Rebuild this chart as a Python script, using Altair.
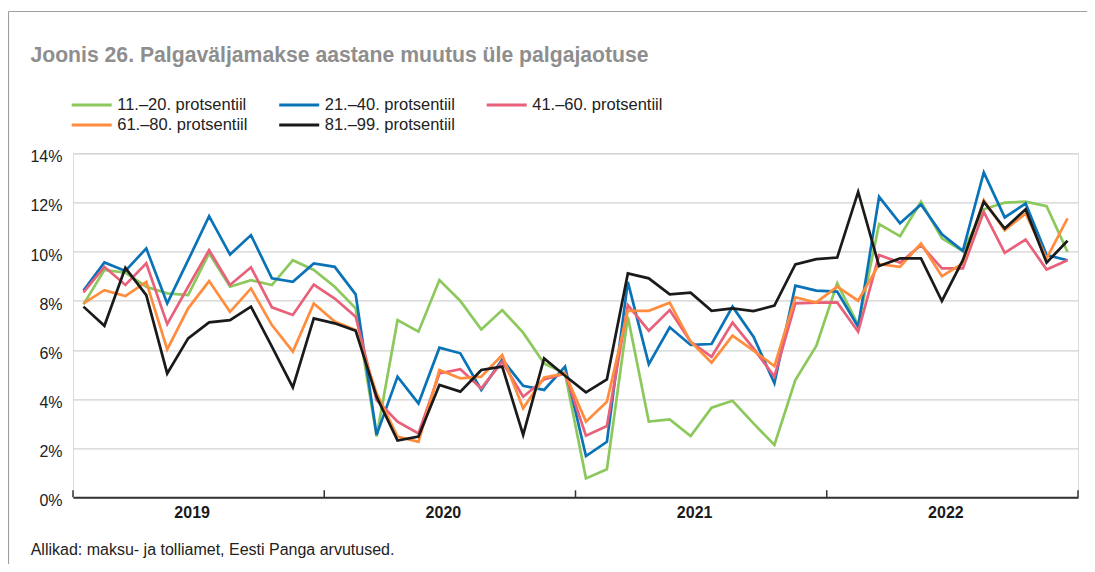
import json
import altair as alt
import pandas as pd

# ---------------- data ----------------
years = ["2019", "2020", "2021", "2022"]
months = [f"{y}-{m:02d}" for y in years for m in range(1, 13)]

series_names = [
    "11.–20. protsentiil",
    "21.–40. protsentiil",
    "41.–60. protsentiil",
    "61.–80. protsentiil",
    "81.–99. protsentiil",
]

p11_20 = [7.85, 9.25, 9.14, 8.57, 8.30, 8.23, 9.93, 8.57, 8.84, 8.64, 9.65, 9.25,
          8.57, 7.69, 2.47, 7.21, 6.74, 8.84, 7.99, 6.83, 7.62, 6.70, 5.45, 5.04,
          0.77, 1.14, 7.35, 3.08, 3.17, 2.49, 3.65, 3.93, 3.01, 2.13, 4.77, 6.16,
          8.71, 7.01, 11.12, 10.63, 12.03, 10.54, 10.02, 11.72, 11.99, 12.03, 11.85, 9.99]

p21_40 = [8.41, 9.56, 9.21, 10.13, 7.89, 9.65, 11.44, 9.88, 10.67, 8.91, 8.77, 9.52,
          9.38, 8.26, 2.54, 4.91, 3.82, 6.09, 5.86, 4.37, 5.61, 4.54, 4.37, 5.32,
          1.68, 2.26, 8.77, 5.42, 6.92, 6.20, 6.24, 7.76, 6.54, 4.64, 8.61, 8.41,
          8.37, 6.94, 12.23, 11.15, 11.92, 10.70, 10.03, 13.22, 11.39, 11.96, 9.86, 9.65]

p41_60 = [8.34, 9.38, 8.64, 9.52, 7.05, 8.57, 10.06, 8.64, 9.36, 7.73, 7.42, 8.66,
          8.09, 7.35, 3.96, 3.08, 2.60, 5.04, 5.21, 4.43, 5.52, 4.09, 4.80, 5.04,
          2.51, 2.90, 7.82, 6.78, 7.62, 6.33, 5.72, 7.11, 6.06, 4.91, 7.89, 7.92,
          7.93, 6.74, 9.86, 9.55, 10.26, 9.32, 9.32, 11.62, 9.95, 10.49, 9.27, 9.65]

p61_80 = [7.89, 8.43, 8.19, 8.77, 6.02, 7.69, 8.80, 7.55, 8.50, 7.01, 5.93, 7.89,
          7.15, 6.81, 4.23, 2.47, 2.26, 5.18, 4.84, 4.91, 5.79, 3.62, 4.88, 5.04,
          3.08, 3.89, 7.59, 7.59, 7.92, 6.33, 5.48, 6.58, 5.97, 5.34, 8.14, 7.93,
          8.57, 8.00, 9.49, 9.38, 10.33, 9.00, 9.52, 12.09, 10.87, 11.55, 9.72, 11.35]

p81_99 = [7.76, 6.98, 9.34, 8.23, 5.04, 6.47, 7.12, 7.21, 7.76, 6.13, 4.47, 7.28,
          7.08, 6.78, 4.09, 2.31, 2.47, 4.57, 4.30, 5.18, 5.32, 2.54, 5.65, 4.95,
          4.27, 4.80, 9.11, 8.91, 8.26, 8.33, 7.59, 7.69, 7.58, 7.80, 9.48, 9.69,
          9.76, 12.43, 9.41, 9.72, 9.72, 7.99, 9.65, 12.03, 10.94, 11.72, 9.55, 10.44]

y_ticks = [0, 2, 4, 6, 8, 10, 12, 14]
year_bounds = [0, 12, 24, 36, 48]
year_centers = [6, 18, 30, 42]

title_text = "Joonis 26. Palgaväljamakse aastane muutus üle palgajaotuse"
source_text = "Allikad: maksu- ja tolliamet, Eesti Panga arvutused."

colors = ["#8cc85c", "#0a73b8", "#e8607a", "#ff8d3d", "#1a1a1a"]

# ---------------- build table ----------------
all_series = [p11_20, p21_40, p41_60, p61_80, p81_99]
rows = []
for name, vals in zip(series_names, all_series):
    for i, (m, v) in enumerate(zip(months, vals)):
        rows.append({"month": m, "pos": i + 0.5, "series": name, "value": v})
df = pd.DataFrame(rows)

FONT = "Liberation Sans"
W, H = 1005, 344

x_scale = alt.Scale(domain=[0, 48], nice=False, zero=False)

lines = alt.Chart(df).mark_line(strokeWidth=2.7).encode(
    x=alt.X(
        "pos:Q",
        scale=x_scale,
        axis=alt.Axis(
            values=year_centers,
            labelExpr=f"{json.dumps(years)}[floor(datum.value / 12)]",
            ticks=False,
            grid=False,
            domainColor="#333333",
            domainWidth=2,
            labelFont=FONT,
            labelFontSize=16,
            labelFontWeight="bold",
            labelColor="#1a1a1a",
            labelPadding=7.5,
            labelOffset=-7,
            title=None,
        ),
    ),
    y=alt.Y(
        "value:Q",
        scale=alt.Scale(domain=[0, 14], nice=False),
        axis=alt.Axis(
            values=y_ticks,
            labelExpr="datum.value + '%'",
            domain=False,
            ticks=False,
            gridColor="#d2d2d2",
            gridWidth=1.2,
            labelFont=FONT,
            labelFontSize=16,
            labelColor="#222222",
            labelPadding=11,
            labelOffset=3.5,
            title=None,
        ),
    ),
    color=alt.Color(
        "series:N",
        scale=alt.Scale(domain=series_names, range=colors),
        legend=alt.Legend(
            orient="none",
            legendX=-2.8,
            legendY=-58.3,
            direction="horizontal",
            columns=3,
            symbolType="stroke",
            symbolSize=1600,
            symbolStrokeWidth=3,
            clipHeight=20,
            labelFont=FONT,
            labelFontSize=16.5,
            labelColor="#222222",
            labelOffset=4,
            columnPadding=29.5,
            rowPadding=0,
            padding=0,
            title=None,
        ),
    ),
    detail="series:N",
)

ticks = alt.Chart(pd.DataFrame({"b": year_bounds})).mark_rule(
    color="#333333", strokeWidth=1.5
).encode(
    x=alt.X("b:Q", scale=x_scale),
    y=alt.value(H - 7),
    y2=alt.value(H),
)

one = pd.DataFrame({"k": [0]})
frame_top = alt.Chart(one).mark_rule(color="#a0a0a0", strokeWidth=1.2).encode(
    x=alt.value(-64.5), x2=alt.value(W + 9), y=alt.value(-141.8)
)
frame_left = alt.Chart(one).mark_rule(color="#a0a0a0", strokeWidth=1.2).encode(
    x=alt.value(-64.5), y=alt.value(-141.8), y2=alt.value(H + 70)
)

title = alt.Chart(one).mark_text(
    align="left", baseline="alphabetic", font=FONT, fontSize=21.2,
    fontWeight="bold", color="#8e8e8e"
).encode(x=alt.value(-42.6), y=alt.value(-91.6), text=alt.value(title_text))

source = alt.Chart(one).mark_text(
    align="left", baseline="alphabetic", font=FONT, fontSize=16, color="#222222"
).encode(x=alt.value(-42.3), y=alt.value(H + 57.6), text=alt.value(source_text))

chart = alt.layer(frame_top, frame_left, lines, ticks, title, source).properties(
    width=W,
    height=H,
    autosize=alt.AutoSizeParams(type="none"),
    padding={"left": 65, "top": 145.3, "right": 9, "bottom": 66.7},
).configure_view(stroke=None).configure(background="white")

chart.save("out.html", embed_options={"renderer": "svg", "actions": False})
